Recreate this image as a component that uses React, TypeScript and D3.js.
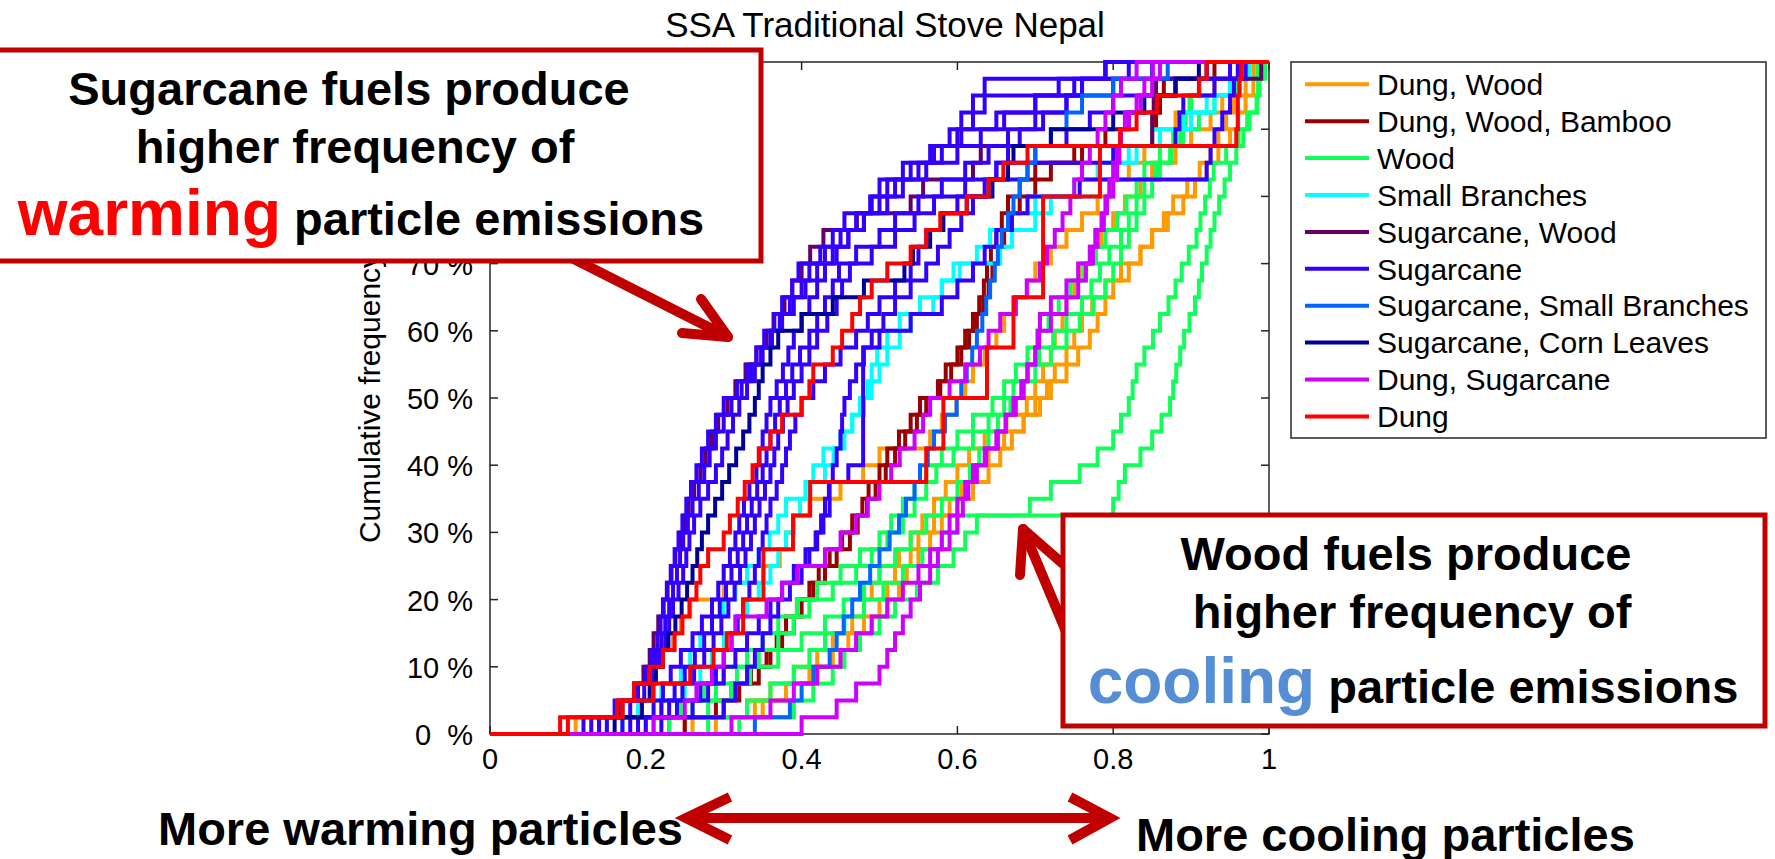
import React from 'react';
import * as d3 from 'd3';

const LEVELS = [
  2.5, 5, 7.5, 10, 12.5, 15, 17.5, 20, 22.5, 25,
  27.5, 30, 32.5, 35, 37.5, 40, 42.5, 45, 47.5, 50,
  52.5, 55, 57.5, 60, 62.5, 65, 67.5, 70, 72.5, 75,
  77.5, 80, 82.5, 85, 87.5, 90, 92.5, 95, 97.5, 100,
];

const X_TICKS = [0, 0.2, 0.4, 0.6, 0.8, 1];
const X_TICK_LABELS = ['0', '0.2', '0.4', '0.6', '0.8', '1'];
const Y_TICKS = [0, 10, 20, 30, 40, 50, 60, 70, 80, 90, 100];
const Y_TICK_LABELS = ['0  %', '10 %', '20 %', '30 %', '40 %', '50 %', '60 %', '70 %', '80 %', '90 %', '100 %'];

const FUELS = [
  'Dung, Wood',
  'Dung, Wood, Bamboo',
  'Wood',
  'Small Branches',
  'Sugarcane, Wood',
  'Sugarcane',
  'Sugarcane, Small Branches',
  'Sugarcane, Corn Leaves',
  'Dung, Sugarcane',
  'Dung',
];
const FUEL_COLORS = ['#FF9900', '#990000', '#11FF5A', '#00FFFF', '#660066', '#3300FF', '#0066FF', '#000099', '#CC00FF', '#FF0000'];

// x value at which each sample's cumulative frequency reaches LEVELS[i]
const dungWood = [
  [0.11, 0.17, 0.19, 0.21, 0.22, 0.235, 0.245, 0.257, 0.30, 0.351,
   0.372, 0.38, 0.39, 0.41, 0.45, 0.479, 0.50, 0.565, 0.58, 0.599,
   0.61, 0.62, 0.635, 0.65, 0.66, 0.675, 0.69, 0.70, 0.72, 0.74,
   0.76, 0.78, 0.80, 0.82, 0.84, 0.86, 0.88, 0.90, 0.93, 0.96],
  [0.26, 0.33, 0.36, 0.39, 0.42, 0.44, 0.465, 0.48, 0.49, 0.50,
   0.525, 0.54, 0.555, 0.57, 0.585, 0.60, 0.615, 0.635, 0.663, 0.689,
   0.70, 0.71, 0.72, 0.725, 0.735, 0.74, 0.75, 0.757, 0.77, 0.785,
   0.80, 0.815, 0.835, 0.85, 0.88, 0.90, 0.925, 0.94, 0.955, 0.97],
  [0.29, 0.35, 0.38, 0.41, 0.44, 0.46, 0.48, 0.50, 0.51, 0.52,
   0.54, 0.55, 0.57, 0.59, 0.605, 0.62, 0.64, 0.66, 0.685, 0.706,
   0.715, 0.725, 0.74, 0.75, 0.76, 0.773, 0.79, 0.81, 0.835, 0.85,
   0.865, 0.877, 0.895, 0.911, 0.925, 0.935, 0.945, 0.955, 0.97, 0.98],
  [0.25, 0.34, 0.38, 0.42, 0.45, 0.47, 0.49, 0.51, 0.525, 0.535,
   0.55, 0.565, 0.58, 0.60, 0.62, 0.64, 0.655, 0.67, 0.685, 0.70,
   0.72, 0.74, 0.755, 0.77, 0.78, 0.79, 0.80, 0.82, 0.835, 0.85,
   0.87, 0.89, 0.905, 0.92, 0.935, 0.95, 0.96, 0.97, 0.98, 0.99],
];
const dungWoodBamboo = [
  [0.23, 0.29, 0.31, 0.335, 0.355, 0.368, 0.38, 0.394, 0.41, 0.422,
   0.436, 0.452, 0.465, 0.478, 0.486, 0.50, 0.51, 0.525, 0.54, 0.552,
   0.575, 0.585, 0.60, 0.61, 0.62, 0.628, 0.634, 0.638, 0.643, 0.65,
   0.657, 0.665, 0.68, 0.70, 0.75, 0.85, 0.855, 0.86, 0.865, 0.93],
  [0.25, 0.30, 0.32, 0.345, 0.36, 0.375, 0.39, 0.40, 0.415, 0.43,
   0.445, 0.462, 0.472, 0.484, 0.495, 0.508, 0.52, 0.533, 0.548, 0.56,
   0.578, 0.592, 0.605, 0.615, 0.625, 0.633, 0.64, 0.645, 0.652, 0.66,
   0.67, 0.68, 0.70, 0.72, 0.76, 0.79, 0.82, 0.86, 0.88, 0.92],
];
const wood = [
  [0.20, 0.245, 0.275, 0.30, 0.33, 0.35, 0.37, 0.394, 0.42, 0.45,
   0.475, 0.50, 0.515, 0.53, 0.545, 0.56, 0.58, 0.60, 0.62, 0.645,
   0.66, 0.675, 0.69, 0.703, 0.717, 0.73, 0.745, 0.762, 0.778, 0.79,
   0.805, 0.817, 0.83, 0.84, 0.86, 0.877, 0.886, 0.90, 0.911, 0.985],
  [0.21, 0.26, 0.29, 0.317, 0.345, 0.37, 0.39, 0.41, 0.44, 0.47,
   0.49, 0.51, 0.53, 0.545, 0.56, 0.573, 0.595, 0.62, 0.64, 0.66,
   0.672, 0.69, 0.705, 0.723, 0.74, 0.76, 0.772, 0.783, 0.795, 0.81,
   0.82, 0.83, 0.84, 0.855, 0.873, 0.886, 0.893, 0.898, 0.95, 0.99],
  [0.23, 0.28, 0.31, 0.334, 0.37, 0.40, 0.43, 0.454, 0.48, 0.50,
   0.52, 0.54, 0.56, 0.58, 0.60, 0.616, 0.628, 0.64, 0.652, 0.668,
   0.685, 0.70, 0.72, 0.74, 0.757, 0.775, 0.79, 0.80, 0.81, 0.82,
   0.83, 0.84, 0.85, 0.86, 0.875, 0.89, 0.91, 0.93, 0.96, 0.995],
  [0.32, 0.39, 0.415, 0.44, 0.455, 0.475, 0.50, 0.52, 0.548, 0.575,
   0.595, 0.61, 0.625, 0.80, 0.807, 0.815, 0.835, 0.85, 0.862, 0.873,
   0.877, 0.881, 0.886, 0.891, 0.898, 0.905, 0.91, 0.914, 0.92, 0.925,
   0.93, 0.936, 0.943, 0.95, 0.958, 0.967, 0.975, 0.985, 0.988, 0.99],
  [0.28, 0.33, 0.36, 0.39, 0.41, 0.43, 0.455, 0.48, 0.505, 0.53,
   0.555, 0.58, 0.60, 0.693, 0.72, 0.757, 0.78, 0.80, 0.81, 0.82,
   0.825, 0.83, 0.84, 0.851, 0.86, 0.871, 0.88, 0.888, 0.897, 0.907,
   0.912, 0.918, 0.924, 0.929, 0.945, 0.961, 0.972, 0.984, 0.986, 0.988],
];
const smallBranches = [
  [0.15, 0.19, 0.22, 0.245, 0.257, 0.27, 0.285, 0.30, 0.315, 0.33,
   0.345, 0.359, 0.37, 0.38, 0.405, 0.415, 0.428, 0.45, 0.465, 0.48,
   0.49, 0.50, 0.51, 0.526, 0.54, 0.552, 0.58, 0.603, 0.625, 0.642,
   0.67, 0.70, 0.783, 0.80, 0.83, 0.85, 0.90, 0.93, 0.963, 0.97],
  [0.17, 0.22, 0.25, 0.27, 0.285, 0.30, 0.315, 0.33, 0.345, 0.36,
   0.37, 0.38, 0.39, 0.398, 0.41, 0.43, 0.441, 0.455, 0.465, 0.475,
   0.485, 0.49, 0.497, 0.51, 0.526, 0.569, 0.58, 0.595, 0.655, 0.67,
   0.70, 0.72, 0.75, 0.78, 0.82, 0.86, 0.89, 0.92, 0.95, 0.975],
];
const sugarcaneWood = [
  [0.14, 0.165, 0.185, 0.197, 0.205, 0.21, 0.216, 0.222, 0.227, 0.232,
   0.238, 0.245, 0.25, 0.255, 0.262, 0.27, 0.277, 0.285, 0.293, 0.305,
   0.315, 0.328, 0.342, 0.355, 0.364, 0.378, 0.388, 0.40, 0.411, 0.428,
   0.471, 0.54, 0.556, 0.62, 0.63, 0.85, 0.85, 0.852, 0.855, 0.99],
];
const sugarcane = [
  [0.12, 0.16, 0.185, 0.20, 0.208, 0.215, 0.219, 0.223, 0.228, 0.233,
   0.237, 0.242, 0.247, 0.252, 0.258, 0.265, 0.272, 0.28, 0.29, 0.30,
   0.317, 0.33, 0.342, 0.352, 0.365, 0.375, 0.388, 0.396, 0.424, 0.44,
   0.455, 0.488, 0.50, 0.53, 0.565, 0.59, 0.605, 0.62, 0.635, 0.79],
  [0.13, 0.17, 0.19, 0.205, 0.213, 0.22, 0.225, 0.23, 0.235, 0.24,
   0.244, 0.248, 0.254, 0.26, 0.268, 0.275, 0.282, 0.29, 0.30, 0.31,
   0.323, 0.335, 0.348, 0.36, 0.372, 0.385, 0.40, 0.41, 0.43, 0.45,
   0.47, 0.49, 0.51, 0.54, 0.58, 0.605, 0.62, 0.635, 0.73, 0.79],
  [0.14, 0.18, 0.198, 0.21, 0.218, 0.225, 0.23, 0.235, 0.242, 0.248,
   0.252, 0.256, 0.262, 0.27, 0.28, 0.29, 0.298, 0.305, 0.312, 0.32,
   0.33, 0.34, 0.35, 0.362, 0.375, 0.39, 0.405, 0.42, 0.44, 0.46,
   0.48, 0.50, 0.52, 0.56, 0.60, 0.63, 0.66, 0.70, 0.76, 0.82],
  [0.15, 0.21, 0.222, 0.232, 0.245, 0.26, 0.272, 0.285, 0.293, 0.30,
   0.308, 0.315, 0.32, 0.326, 0.333, 0.342, 0.346, 0.35, 0.355, 0.36,
   0.368, 0.376, 0.383, 0.39, 0.40, 0.41, 0.42, 0.43, 0.445, 0.46,
   0.48, 0.51, 0.53, 0.55, 0.57, 0.60, 0.65, 0.70, 0.75, 0.85],
  [0.17, 0.22, 0.237, 0.25, 0.263, 0.275, 0.285, 0.295, 0.303, 0.31,
   0.318, 0.325, 0.33, 0.336, 0.343, 0.35, 0.355, 0.36, 0.366, 0.372,
   0.38, 0.388, 0.398, 0.41, 0.42, 0.43, 0.44, 0.448, 0.47, 0.50,
   0.52, 0.55, 0.58, 0.61, 0.64, 0.665, 0.70, 0.74, 0.80, 0.92],
  [0.18, 0.23, 0.247, 0.262, 0.275, 0.287, 0.297, 0.306, 0.314, 0.321,
   0.328, 0.335, 0.34, 0.346, 0.353, 0.36, 0.365, 0.37, 0.376, 0.382,
   0.39, 0.40, 0.41, 0.42, 0.433, 0.445, 0.452, 0.462, 0.49, 0.52,
   0.545, 0.57, 0.61, 0.65, 0.70, 0.74, 0.77, 0.80, 0.88, 0.95],
  [0.19, 0.24, 0.27, 0.29, 0.30, 0.31, 0.318, 0.325, 0.333, 0.34,
   0.345, 0.35, 0.355, 0.36, 0.368, 0.375, 0.38, 0.385, 0.392, 0.40,
   0.415, 0.43, 0.45, 0.47, 0.485, 0.50, 0.52, 0.54, 0.55, 0.56,
   0.58, 0.60, 0.64, 0.69, 0.80, 0.88, 0.885, 0.89, 0.93, 0.97],
  [0.20, 0.26, 0.28, 0.30, 0.315, 0.33, 0.345, 0.36, 0.375, 0.39,
   0.405, 0.418, 0.425, 0.43, 0.435, 0.44, 0.445, 0.45, 0.452, 0.455,
   0.462, 0.47, 0.48, 0.49, 0.505, 0.52, 0.54, 0.56, 0.575, 0.59,
   0.605, 0.62, 0.635, 0.65, 0.665, 0.68, 0.71, 0.74, 0.76, 0.79],
  [0.22, 0.30, 0.315, 0.33, 0.34, 0.35, 0.36, 0.37, 0.385, 0.40,
   0.41, 0.42, 0.428, 0.436, 0.436, 0.46, 0.479, 0.479, 0.479, 0.479,
   0.479, 0.479, 0.479, 0.50, 0.54, 0.58, 0.60, 0.62, 0.635, 0.65,
   0.67, 0.69, 0.757, 0.92, 0.925, 0.93, 0.94, 0.95, 0.955, 0.96],
];
const sugarcaneSmallBranches = [
  [0.34, 0.385, 0.40, 0.415, 0.436, 0.445, 0.454, 0.465, 0.475, 0.488,
   0.50, 0.513, 0.525, 0.534, 0.545, 0.552, 0.562, 0.57, 0.584, 0.599,
   0.605, 0.612, 0.619, 0.625, 0.632, 0.637, 0.642, 0.648, 0.652, 0.657,
   0.665, 0.672, 0.68, 0.69, 0.70, 0.72, 0.74, 0.76, 0.80, 0.87],
];
const sugarcaneCornLeaves = [
  [0.16, 0.195, 0.205, 0.213, 0.222, 0.229, 0.238, 0.246, 0.253, 0.26,
   0.266, 0.272, 0.28, 0.289, 0.298, 0.307, 0.316, 0.325, 0.333, 0.34,
   0.345, 0.35, 0.36, 0.37, 0.40, 0.44, 0.48, 0.532, 0.543, 0.565,
   0.582, 0.612, 0.645, 0.665, 0.672, 0.72, 0.80, 0.84, 0.88, 0.91],
];
const dungSugarcane = [
  [0.40, 0.445, 0.47, 0.50, 0.51, 0.52, 0.53, 0.54, 0.552, 0.565,
   0.575, 0.59, 0.60, 0.607, 0.614, 0.625, 0.637, 0.652, 0.662, 0.672,
   0.682, 0.69, 0.70, 0.703, 0.706, 0.72, 0.74, 0.755, 0.77, 0.777,
   0.785, 0.79, 0.795, 0.80, 0.805, 0.809, 0.815, 0.83, 0.84, 0.851],
  [0.21, 0.25, 0.265, 0.285, 0.30, 0.31, 0.315, 0.355, 0.375, 0.395,
   0.43, 0.45, 0.47, 0.485, 0.50, 0.515, 0.526, 0.545, 0.556, 0.565,
   0.59, 0.61, 0.629, 0.64, 0.655, 0.675, 0.689, 0.706, 0.715, 0.725,
   0.735, 0.745, 0.75, 0.76, 0.77, 0.78, 0.79, 0.80, 0.81, 0.83],
  [0.31, 0.36, 0.39, 0.42, 0.45, 0.47, 0.49, 0.51, 0.53, 0.55,
   0.565, 0.58, 0.59, 0.60, 0.61, 0.62, 0.635, 0.65, 0.662, 0.675,
   0.685, 0.69, 0.70, 0.705, 0.72, 0.74, 0.755, 0.765, 0.774, 0.78,
   0.788, 0.792, 0.80, 0.805, 0.808, 0.81, 0.82, 0.835, 0.85, 0.86],
];
const dung = [
  [0.09, 0.163, 0.185, 0.205, 0.222, 0.237, 0.247, 0.256, 0.265, 0.27,
   0.28, 0.30, 0.308, 0.318, 0.327, 0.337, 0.345, 0.36, 0.375, 0.40,
   0.41, 0.415, 0.44, 0.452, 0.465, 0.475, 0.49, 0.51, 0.54, 0.56,
   0.578, 0.612, 0.64, 0.659, 0.69, 0.809, 0.83, 0.856, 0.91, 0.92],
  [0.10, 0.17, 0.21, 0.257, 0.287, 0.304, 0.325, 0.325, 0.351, 0.351,
   0.351, 0.389, 0.389, 0.411, 0.411, 0.56, 0.56, 0.582, 0.582, 0.582,
   0.638, 0.638, 0.638, 0.672, 0.672, 0.672, 0.71, 0.71, 0.71, 0.71,
   0.71, 0.71, 0.783, 0.783, 0.783, 0.958, 0.96, 0.96, 0.962, 0.965],
];

const SERIES_BY_FUEL = [
  dungWood, dungWoodBamboo, wood, smallBranches, sugarcaneWood,
  sugarcane, sugarcaneSmallBranches, sugarcaneCornLeaves, dungSugarcane, dung,
];

const FONT = '"Liberation Sans", Arial, Helvetica, sans-serif';
const DARK_RED = '#C00000';

export default function App() {
  const W = 1775;
  const H = 859;
  const left = 490, right = 1269, top = 62, bottom = 734;
  const x = d3.scaleLinear().domain([0, 1]).range([left, right]);
  const y = d3.scaleLinear().domain([0, 100]).range([bottom, top]);

  const line = d3
    .line<[number, number]>()
    .x((d) => x(d[0]))
    .y((d) => y(d[1]))
    .curve(d3.curveStepAfter);

  const paths: { d: string; color: string; key: string }[] = [];
  SERIES_BY_FUEL.forEach((group, gi) => {
    group.forEach((xs, si) => {
      const pts: [number, number][] = [[0, 0]];
      xs.forEach((xv, i) => pts.push([xv, LEVELS[i]]));
      pts.push([1, 100]);
      paths.push({ d: line(pts) || '', color: FUEL_COLORS[gi], key: `${gi}-${si}` });
    });
  });

  const axisColor = '#262626';
  const tickLen = 8;

  const legendX = 1291, legendY = 62, legendW = 475, legendH = 376;
  const rowStart = 84.3, rowStep = 36.9;

  return (
    <div style={{ position: 'absolute', left: 0, top: 0, width: W, height: H, background: '#fff' }}>
      <svg width={W} height={H} viewBox={`0 0 ${W} ${H}`} style={{ display: 'block', fontFamily: FONT }}>
        <rect x={0} y={0} width={W} height={H} fill="#fff" />

        {/* title */}
        <text x={885} y={37} textAnchor="middle" fontSize={35} fill="#000">
          SSA Traditional Stove Nepal
        </text>

        {/* axes box */}
        <rect x={left} y={top} width={right - left} height={bottom - top} fill="#fff" stroke={axisColor} strokeWidth={1.5} />

        {/* ticks */}
        {X_TICKS.map((t, i) => (
          <g key={`xt${i}`}>
            <line x1={x(t)} x2={x(t)} y1={bottom} y2={bottom - tickLen} stroke={axisColor} strokeWidth={1.5} />
            <line x1={x(t)} x2={x(t)} y1={top} y2={top + tickLen} stroke={axisColor} strokeWidth={1.5} />
            <text x={x(t)} y={769} textAnchor="middle" fontSize={29} fill="#000">
              {X_TICK_LABELS[i]}
            </text>
          </g>
        ))}
        {Y_TICKS.map((t, i) => (
          <g key={`yt${i}`}>
            <line x1={left} x2={left + tickLen} y1={y(t)} y2={y(t)} stroke={axisColor} strokeWidth={1.5} />
            <line x1={right} x2={right - tickLen} y1={y(t)} y2={y(t)} stroke={axisColor} strokeWidth={1.5} />
            <text x={473} y={y(t) + 11} textAnchor="end" fontSize={29} fill="#000" style={{ whiteSpace: 'pre' }}>
              {Y_TICK_LABELS[i]}
            </text>
          </g>
        ))}

        {/* y label */}
        <text transform={`translate(380, ${(top + bottom) / 2}) rotate(-90)`} textAnchor="middle" fontSize={30} fill="#000">
          Cumulative frequency
        </text>

        {/* curves */}
        <g fill="none" strokeWidth={4} strokeLinejoin="miter">
          {paths.map((p) => (
            <path key={p.key} d={p.d} stroke={p.color} />
          ))}
        </g>

        {/* legend */}
        <rect x={legendX} y={legendY} width={legendW} height={legendH} fill="#fff" stroke={axisColor} strokeWidth={1.5} />
        {FUELS.map((f, i) => {
          const cy = rowStart + i * rowStep;
          return (
            <g key={`lg${i}`}>
              <line x1={1305} x2={1369} y1={cy} y2={cy} stroke={FUEL_COLORS[i]} strokeWidth={4} />
              <text x={1377} y={cy + 10.7} fontSize={30} fill="#000">
                {f}
              </text>
            </g>
          );
        })}

        {/* arrows */}
        <g stroke={DARK_RED} strokeWidth={10} strokeLinecap="round" strokeLinejoin="round" fill="none">
          <line x1={560} y1={252} x2={728} y2={337} />
          <polyline points="682,333 728,337 701,299" />
          <line x1={1078} y1={660} x2={1023} y2={529} />
          <polyline points="1020,575 1023,529 1062,563" />
        </g>

        {/* annotation box 1 */}
        <rect x={-20} y={50} width={781} height={211} fill="#fff" stroke={DARK_RED} strokeWidth={5} />
        <g fontFamily={FONT} fontWeight="bold" textAnchor="middle" fill="#000">
          <text x={349} y={105} fontSize={47}>Sugarcane fuels produce</text>
          <text x={355} y={163} fontSize={47}>higher frequency of</text>
          <text x={361} y={235} fontSize={47}>
            <tspan fill="#FF0000" fontSize={64}>warming</tspan>
            <tspan> particle emissions</tspan>
          </text>
        </g>

        {/* annotation box 2 */}
        <rect x={1063} y={515} width={702} height={211} fill="#fff" stroke={DARK_RED} strokeWidth={5} />
        <g fontFamily={FONT} fontWeight="bold" textAnchor="middle" fill="#000">
          <text x={1406} y={570} fontSize={47}>Wood fuels produce</text>
          <text x={1412} y={628} fontSize={47}>higher frequency of</text>
          <text x={1413} y={703} fontSize={47}>
            <tspan fill="#558ED5" fontSize={64}>cooling</tspan>
            <tspan> particle emissions</tspan>
          </text>
        </g>

        {/* bottom double arrow */}
        <g stroke={DARK_RED} strokeWidth={10} strokeLinejoin="miter" fill="none">
          <line x1={688} y1={818} x2={1106} y2={818} />
          <polyline points="730,797 686,818 730,840" />
          <polyline points="1070,797 1110,818 1070,840" />
        </g>
        <g fontFamily={FONT} fontWeight="bold" fill="#000" fontSize={47}>
          <text x={158} y={845}>More warming particles</text>
          <text x={1136} y={851}>More cooling particles</text>
        </g>
      </svg>
    </div>
  );
}
